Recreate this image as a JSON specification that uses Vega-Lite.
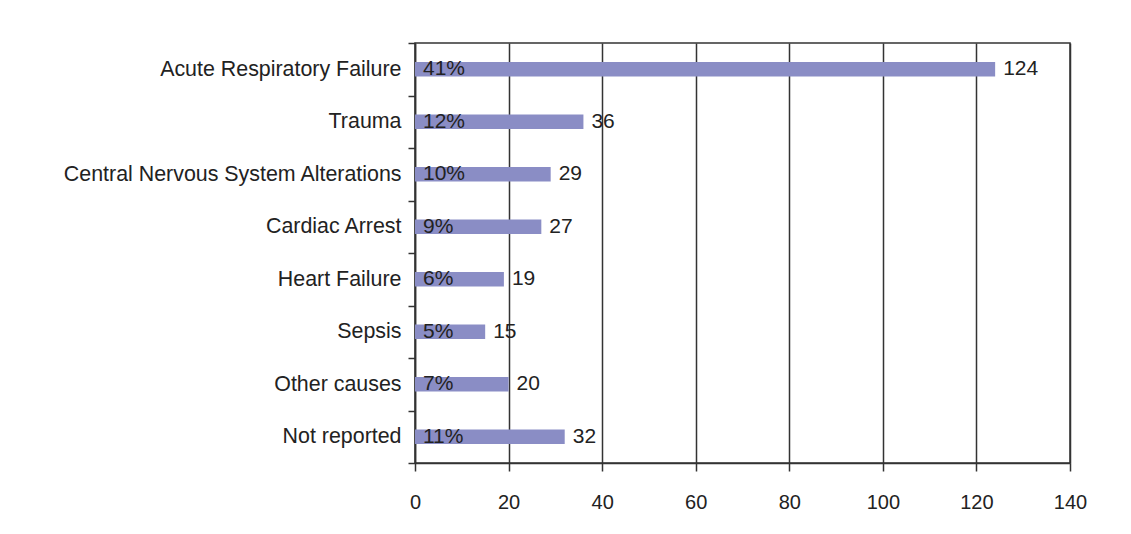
{
  "$schema": "https://vega.github.io/schema/vega-lite/v6.json",
  "width": 655,
  "height": 420,
  "autosize": {"type": "none"},
  "padding": {"left": 415, "top": 43, "right": 61, "bottom": 71},
  "background": "white",
  "config": {
    "view": {"stroke": "#333", "strokeWidth": 1.5},
    "font": "Liberation Sans"
  },
  "data": {
    "values": [
      {"cause": "Acute Respiratory Failure", "count": 124, "pct": "41%"},
      {"cause": "Trauma", "count": 36, "pct": "12%"},
      {"cause": "Central Nervous System Alterations", "count": 29, "pct": "10%"},
      {"cause": "Cardiac Arrest", "count": 27, "pct": "9%"},
      {"cause": "Heart Failure", "count": 19, "pct": "6%"},
      {"cause": "Sepsis", "count": 15, "pct": "5%"},
      {"cause": "Other causes", "count": 20, "pct": "7%"},
      {"cause": "Not reported", "count": 32, "pct": "11%"}
    ]
  },
  "encoding": {
    "y": {
      "field": "cause",
      "type": "nominal",
      "sort": null,
      "scale": {"paddingInner": 0, "paddingOuter": 0},
      "axis": {
        "title": null,
        "tickBand": "extent",
        "tickSize": 7,
        "tickColor": "#333",
        "tickWidth": 1.5,
        "domainColor": "#333",
        "domainWidth": 1.5,
        "labelFontSize": 21.4,
        "labelColor": "#222",
        "labelPadding": 7,
        "labelLimit": 400,
        "grid": false
      }
    }
  },
  "layer": [
    {
      "mark": {"type": "bar", "color": "#8a8dc5", "height": {"band": 0.28}},
      "encoding": {
        "x": {
          "field": "count",
          "type": "quantitative",
          "scale": {"domain": [0, 140], "nice": false},
          "axis": {
            "title": null,
            "values": [0, 20, 40, 60, 80, 100, 120, 140],
            "grid": true,
            "gridColor": "#333",
            "gridWidth": 1.5,
            "gridOpacity": 1,
            "tickSize": 8,
            "tickColor": "#333",
            "tickWidth": 1.5,
            "domainColor": "#333",
            "domainWidth": 1.5,
            "labelFontSize": 20,
            "labelColor": "#222",
            "labelPadding": 21,
            "labelFlush": false
          }
        }
      }
    },
    {
      "mark": {"type": "text", "align": "left", "baseline": "middle", "dx": 8, "fontSize": 21, "color": "#222"},
      "encoding": {
        "x": {"datum": 0, "type": "quantitative"},
        "text": {"field": "pct"}
      }
    },
    {
      "mark": {"type": "text", "align": "left", "baseline": "middle", "dx": 8, "fontSize": 21, "color": "#222"},
      "encoding": {
        "x": {"field": "count", "type": "quantitative"},
        "text": {"field": "count"}
      }
    }
  ]
}
